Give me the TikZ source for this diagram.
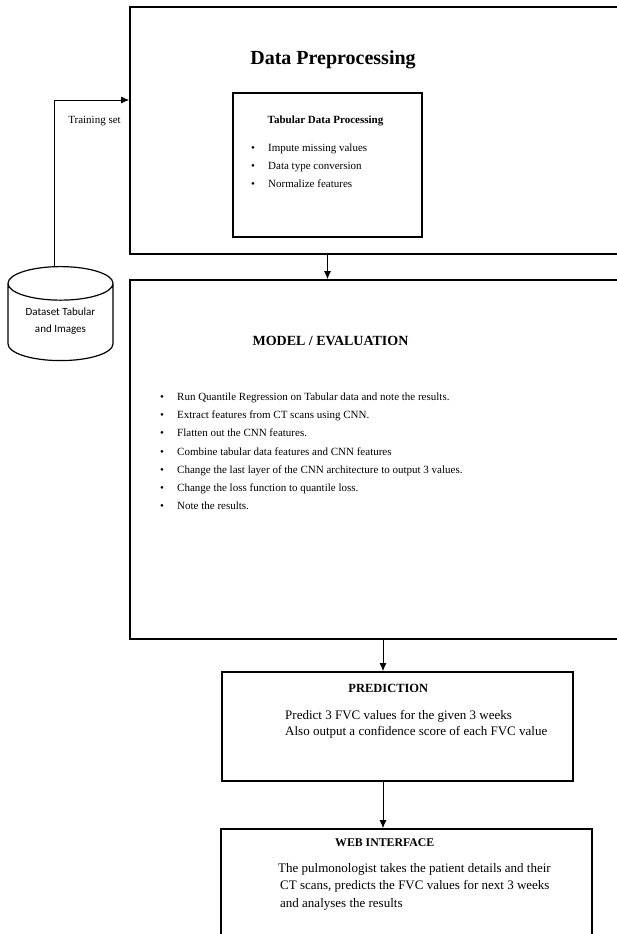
\documentclass[tikz,border=0pt]{standalone}
\usepackage{fontspec}
\setmainfont{Liberation Serif}
\newfontfamily\dsfont{Carlito}
\usetikzlibrary{arrows.meta, positioning, shapes.geometric}

\begin{document}
\begin{tikzpicture}[x=1pt, y=-1pt,
	box/.style = {draw, rectangle, line width=1.6pt, inner sep=0pt},
	title/.style = {anchor=base, inner sep=0pt, font=\bfseries\fontsize{#1}{#1}\selectfont},
	lines/.style = {anchor=base west, inner sep=0pt, align=left},
	item/.style = {anchor=base west, inner sep=0pt, font=\fontsize{11}{13}\selectfont,
		execute at begin node={\makebox[17pt][l]{\textbullet}}},
	arrow/.style = {-{Latex[length=8pt, width=7pt]}, line width=1pt}]
	\useasboundingbox (0,0) rectangle (616,934);

	% boxes
	\node[box, minimum width=490, minimum height=247] (dp) at (375,130.5) {};
	\node[box, minimum width=189, minimum height=144] (tab) at (327.5,165) {};
	\node[box, minimum width=490, minimum height=359] (model) at (375,459.5) {};
	\node[box, minimum width=351, minimum height=109] (pred) at (397.5,726.5) {};
	\node[box, minimum width=371, minimum height=111] (web) at (406.5,884.5) {};
	\node[draw, cylinder, shape border rotate=90, aspect=0.44, line width=1.2pt,
		minimum width=105, minimum height=94, anchor=north,
		font=\dsfont\fontsize{11}{17}\selectfont] (ds) at (60.5,266)
		{\raisebox{4pt}[\dimexpr\height-5pt\relax][\dimexpr\depth-4pt\relax]{\begin{tabular}{@{}c@{}}Dataset Tabular\\and Images\end{tabular}}};

	% titles
	\node[title=20] (dpt) at (333,64.5) {Data Preprocessing};
	\node[title=11] (tabt) at (325.5,123.5) {Tabular Data Processing};
	\node[title=14] (modelt) at (330.5,345.6) {MODEL / EVALUATION};
	\node[title=12.5] (predt) at (388.3,692) {PREDICTION};
	\node[title=11.8] (webt) at (384.8,846) {WEB INTERFACE};
	\node[anchor=base, inner sep=0pt, font=\fontsize{11}{13}\selectfont] (tset) at (94.5,123.5) {Training set};

	% bullet lists
	\foreach \t [count=\i] in {Impute missing values, Data type conversion, Normalize features}
		\node[item] (tp\i) at (251,151.5+18*\i-18) {\t};
	\foreach \t [count=\i] in {Run Quantile Regression on Tabular data and note the results.,
		Extract features from CT scans using CNN., Flatten out the CNN features.,
		Combine tabular data features and CNN features,
		Change the last layer of the CNN architecture to output 3 values.,
		Change the loss function to quantile loss., Note the results.}
		\node[item] (m\i) at (160,400.5+18.2*\i-18.2) {\t};

	% plain text (base = last line)
	\node[lines, font=\fontsize{13}{16}\selectfont] (predx) at (285,735) {Predict 3 FVC values for the given 3 weeks\\Also output a confidence score of each FVC value};
	\node[lines, font=\fontsize{13}{17.5}\selectfont] (webx) at (278,907) {The pulmonologist takes the patient details and their\\\hspace{2pt}CT scans, predicts the FVC values for next 3 weeks\\\hspace{2pt}and analyses the results};

	% connectors
	\coordinate (tbend) at (54,100);
	\draw[arrow] (ds.north -| tbend) -- (tbend) -- (dp.west |- tbend);
	\draw[arrow] (tab.south |- dp.south) -- (tab.south |- model.north);
	\draw[arrow] ([xshift=-14.5]pred.north |- model.south) -- ([xshift=-14.5]pred.north);
	\draw[arrow] ([xshift=-14.5]pred.south) -- ([xshift=-14.5]pred.south |- web.north);
\end{tikzpicture}
\end{document}
